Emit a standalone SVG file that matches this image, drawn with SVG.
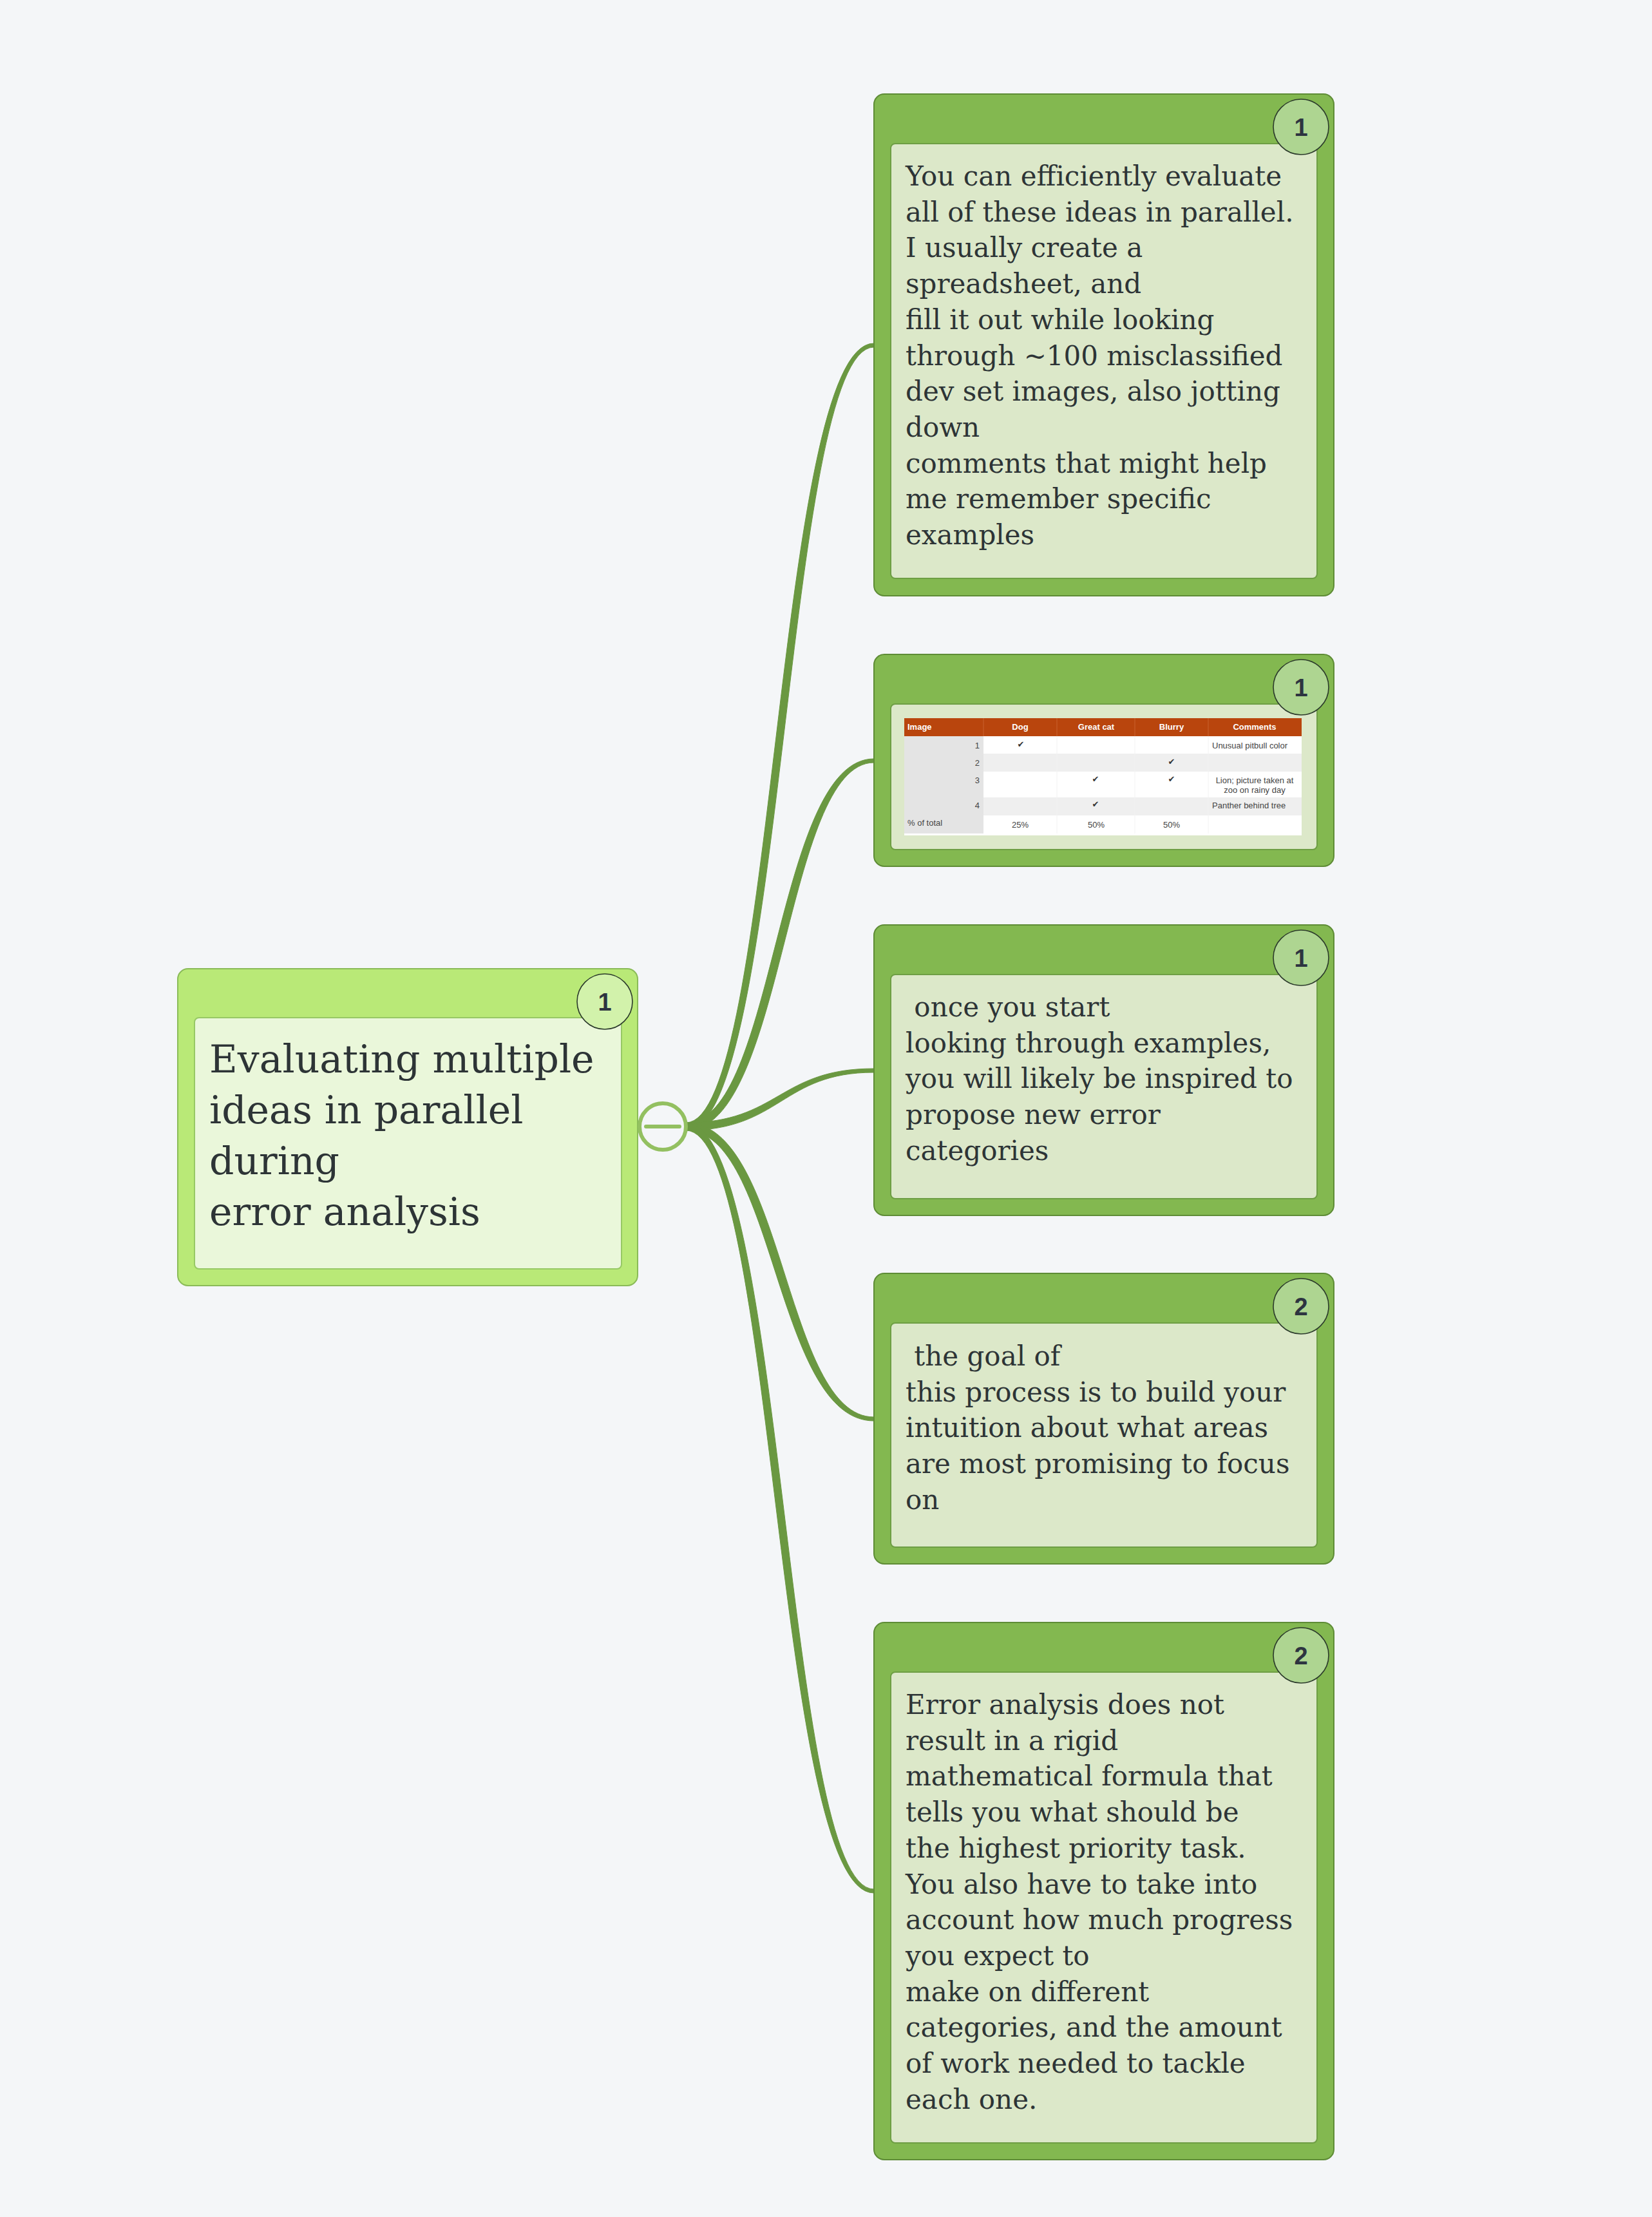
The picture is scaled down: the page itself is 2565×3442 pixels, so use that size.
<svg xmlns="http://www.w3.org/2000/svg" width="2565" height="3442" viewBox="0 0 2565 3442">
<style>
.bg{fill:#F4F6F8}
.outer{fill:#83B850;stroke:#5E8C36;stroke-width:2}
.inner{fill:#DCE8C9;stroke:#6E9E44;stroke-width:2}
.badge{fill:#AED591;stroke:#2B3A2B;stroke-width:1.6}
.router{fill:#B9E977;stroke:#8ABB58;stroke-width:2}
.rinner{fill:#EAF7DA;stroke:#97C865;stroke-width:2}
.rbadge{fill:#D2F2AB;stroke:#2B3A2B;stroke-width:1.6}
.num{font-family:"Liberation Sans",Arial,sans-serif;font-weight:bold;font-size:38px;fill:#2D3440;text-anchor:middle}
.txt{font-family:"DejaVu Serif",Georgia,serif;font-size:42px;fill:#2D3436}
.rtxt{font-family:"DejaVu Serif",Georgia,serif;font-size:60px;fill:#2D3436}
.conn{fill:#6A9841;stroke:#6A9841;stroke-width:1;stroke-linejoin:round}
.th{font-family:"Liberation Sans",Arial,sans-serif;font-weight:bold;font-size:13px;fill:#FFFFFF}
.td{font-family:"Liberation Sans",Arial,sans-serif;font-size:13px;fill:#444444}
.ck{font-family:"DejaVu Sans",sans-serif;font-size:13px;fill:#333333;text-anchor:middle}
.mid{text-anchor:middle}
.end{text-anchor:end}
</style>
<rect class="bg" x="0" y="0" width="2565" height="3442"/>

<g id="connectors">
<path class="conn" d="M1065,1743 C1204,1743 1204,533 1357,533 L1357,539 C1218,539 1218,1755 1065,1755 Z"/>
<path class="conn" d="M1065,1743 C1204,1743 1204,1178 1357,1178 L1357,1184 C1218,1184 1218,1755 1065,1755 Z"/>
<path class="conn" d="M1065,1743 C1209,1743 1209,1659 1357,1659 L1357,1665 C1213,1665 1213,1755 1065,1755 Z"/>
<path class="conn" d="M1065,1743 C1218,1743 1218,2200 1357,2200 L1357,2206 C1204,2206 1204,1755 1065,1755 Z"/>
<path class="conn" d="M1065,1743 C1218,1743 1218,2933 1357,2933 L1357,2939 C1204,2939 1204,1755 1065,1755 Z"/>
<circle cx="1065" cy="1749" r="7" fill="#6A9841"/>
</g>

<g id="root">
<rect class="router" x="276" y="1504" width="714" height="492" rx="16"/>
<rect class="rinner" x="302" y="1580" width="663" height="390" rx="7"/>
<circle class="rbadge" cx="939" cy="1555" r="43"/>
<text class="num" x="939" y="1569">1</text>
<text class="rtxt" x="325" y="1665">
<tspan x="325">Evaluating multiple</tspan>
<tspan x="325" dy="79">ideas in parallel</tspan>
<tspan x="325" dy="79">during</tspan>
<tspan x="325" dy="79">error analysis</tspan>
</text>
<circle cx="1029" cy="1749" r="36" fill="#F4F6F8" stroke="#93C061" stroke-width="6"/>
<line x1="1003" y1="1749" x2="1055" y2="1749" stroke="#93C061" stroke-width="6" stroke-linecap="round"/>
</g>

<g id="node1">
<rect class="outer" x="1357" y="146" width="714" height="779" rx="16"/>
<rect class="inner" x="1383" y="223" width="662" height="675" rx="7"/>
<circle class="badge" cx="2020" cy="197" r="43"/>
<text class="num" x="2020" y="211">1</text>
<text class="txt" x="1406" y="288">
<tspan x="1406">You can efficiently evaluate</tspan>
<tspan x="1406" dy="55.7">all of these ideas in parallel.</tspan>
<tspan x="1406" dy="55.7">I usually create a</tspan>
<tspan x="1406" dy="55.7">spreadsheet, and</tspan>
<tspan x="1406" dy="55.7">fill it out while looking</tspan>
<tspan x="1406" dy="55.7">through ~100 misclassified</tspan>
<tspan x="1406" dy="55.7">dev set images, also jotting</tspan>
<tspan x="1406" dy="55.7">down</tspan>
<tspan x="1406" dy="55.7">comments that might help</tspan>
<tspan x="1406" dy="55.7">me remember specific</tspan>
<tspan x="1406" dy="55.7">examples</tspan>
</text>
</g>

<g id="node2">
<rect class="outer" x="1357" y="1016" width="714" height="329" rx="16"/>
<rect class="inner" x="1383" y="1093" width="662" height="226" rx="7"/>
<g id="table">
<rect x="1404" y="1115" width="617" height="182" fill="#FFFFFF"/>
<rect x="1404" y="1115" width="617" height="28" fill="#B9450D"/>
<rect x="1527" y="1170" width="494" height="28" fill="#EFEFEF"/>
<rect x="1527" y="1238" width="494" height="28" fill="#EFEFEF"/>
<rect x="1404" y="1143" width="123" height="151" fill="#E4E4E4"/>
<g stroke="#C9622F" stroke-width="1">
<line x1="1527" y1="1115" x2="1527" y2="1143"/>
<line x1="1641" y1="1115" x2="1641" y2="1143"/>
<line x1="1762" y1="1115" x2="1762" y2="1143"/>
<line x1="1876" y1="1115" x2="1876" y2="1143"/>
</g>
<g stroke="#F2F2F2" stroke-width="1">
<line x1="1641" y1="1143" x2="1641" y2="1294"/>
<line x1="1762" y1="1143" x2="1762" y2="1294"/>
<line x1="1876" y1="1143" x2="1876" y2="1294"/>
</g>
<text class="th" x="1409" y="1133">Image</text>
<text class="th mid" x="1584" y="1133">Dog</text>
<text class="th mid" x="1702" y="1133">Great cat</text>
<text class="th mid" x="1819" y="1133">Blurry</text>
<text class="th mid" x="1948" y="1133">Comments</text>
<text class="td end" x="1521" y="1162">1</text>
<text class="td end" x="1521" y="1189">2</text>
<text class="td end" x="1521" y="1216">3</text>
<text class="td end" x="1521" y="1255">4</text>
<text class="td" x="1409" y="1282">% of total</text>
<text class="ck" x="1585" y="1160">✔</text>
<text class="ck" x="1819" y="1187">✔</text>
<text class="ck" x="1701" y="1214">✔</text>
<text class="ck" x="1819" y="1214">✔</text>
<text class="ck" x="1701" y="1253">✔</text>
<text class="td" x="1882" y="1162">Unusual pitbull color</text>
<text class="td mid" x="1948" y="1216">Lion; picture taken at</text>
<text class="td mid" x="1948" y="1231">zoo on rainy day</text>
<text class="td" x="1882" y="1255">Panther behind tree</text>
<text class="td mid" x="1584" y="1285">25%</text>
<text class="td mid" x="1702" y="1285">50%</text>
<text class="td mid" x="1819" y="1285">50%</text>
</g>
<circle class="badge" cx="2020" cy="1067" r="43"/>
<text class="num" x="2020" y="1081">1</text>
</g>

<g id="node3">
<rect class="outer" x="1357" y="1436" width="714" height="451" rx="16"/>
<rect class="inner" x="1383" y="1513" width="662" height="348" rx="7"/>
<circle class="badge" cx="2020" cy="1487" r="43"/>
<text class="num" x="2020" y="1501">1</text>
<text class="txt" x="1406" y="1578" xml:space="preserve"><tspan x="1406"> once you start</tspan><tspan x="1406" dy="55.7">looking through examples,</tspan><tspan x="1406" dy="55.7">you will likely be inspired to</tspan><tspan x="1406" dy="55.7">propose new error</tspan><tspan x="1406" dy="55.7">categories</tspan></text>
</g>

<g id="node4">
<rect class="outer" x="1357" y="1977" width="714" height="451" rx="16"/>
<rect class="inner" x="1383" y="2054" width="662" height="348" rx="7"/>
<circle class="badge" cx="2020" cy="2028" r="43"/>
<text class="num" x="2020" y="2042">2</text>
<text class="txt" x="1406" y="2120" xml:space="preserve"><tspan x="1406"> the goal of</tspan><tspan x="1406" dy="55.7">this process is to build your</tspan><tspan x="1406" dy="55.7">intuition about what areas</tspan><tspan x="1406" dy="55.7">are most promising to focus</tspan><tspan x="1406" dy="55.7">on</tspan></text>
</g>

<g id="node5">
<rect class="outer" x="1357" y="2519" width="714" height="834" rx="16"/>
<rect class="inner" x="1383" y="2596" width="662" height="731" rx="7"/>
<circle class="badge" cx="2020" cy="2570" r="43"/>
<text class="num" x="2020" y="2584">2</text>
<text class="txt" x="1406" y="2661">
<tspan x="1406">Error analysis does not</tspan>
<tspan x="1406" dy="55.7">result in a rigid</tspan>
<tspan x="1406" dy="55.7">mathematical formula that</tspan>
<tspan x="1406" dy="55.7">tells you what should be</tspan>
<tspan x="1406" dy="55.7">the highest priority task.</tspan>
<tspan x="1406" dy="55.7">You also have to take into</tspan>
<tspan x="1406" dy="55.7">account how much progress</tspan>
<tspan x="1406" dy="55.7">you expect to</tspan>
<tspan x="1406" dy="55.7">make on different</tspan>
<tspan x="1406" dy="55.7">categories, and the amount</tspan>
<tspan x="1406" dy="55.7">of work needed to tackle</tspan>
<tspan x="1406" dy="55.7">each one.</tspan>
</text>
</g>
</svg>
